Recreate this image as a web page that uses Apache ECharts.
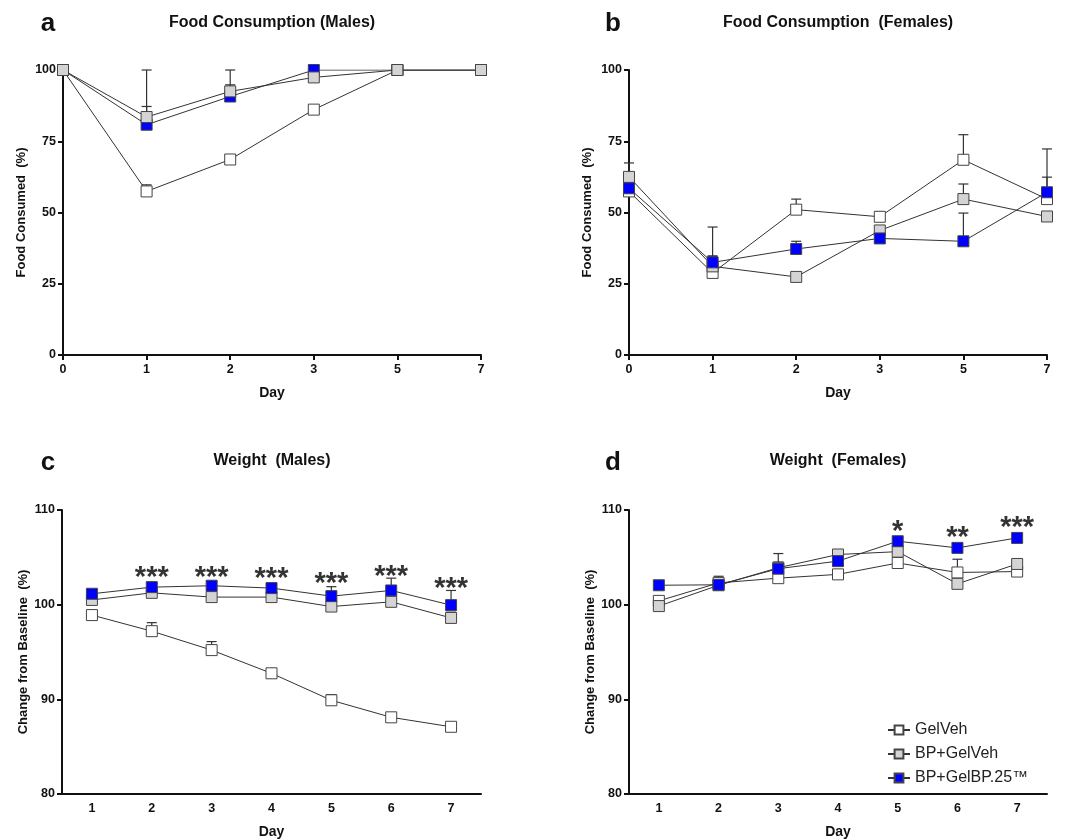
<!DOCTYPE html>
<html>
<head>
<meta charset="utf-8">
<script src="https://cdn.jsdelivr.net/npm/echarts@6/dist/echarts.min.js"></script>
<style>
  html, body { margin: 0; padding: 0; background: #fff; }
  #chart { width: 1070px; height: 840px; }
</style>
</head>
<body>
<div id="chart"></div>
<script>
// ---- data ----
var seriesNames = ["GelVeh", "BP+GelVeh", "BP+GelBP.25\u2122"];

// food consumption, days 0 1 2 3 5 7
var foodDays = ["0", "1", "2", "3", "5", "7"];
var foodMaleVeh = [100, 57.4, 68.6, 86.1, 100, 100];
var foodMaleVehErr = [0, 2.3, 0, 0, 0, 0];
var foodMaleBP = [100, 83.5, 92.5, 97.4, 100, 100];
var foodMaleBPErr = [0, 3.7, 2.3, 0, 0, 0];
var foodMaleGel = [100, 80.8, 90.7, 100, 100, 100];
var foodMaleGelErr = [0, 19.2, 9.3, 0, 0, 0];
var foodMaleStars = [[1, 103.6, "**"], [2, 103.6, "**"]];

var foodFemVeh = [57.4, 28.8, 51.0, 48.5, 68.5, 54.7];
var foodFemVehErr = [0, 16.1, 3.7, 1.7, 8.8, 17.6];
var foodFemBP = [62.5, 31.1, 27.4, 43.7, 54.7, 48.6];
var foodFemBPErr = [4.9, 3.7, 0, 0, 5.3, 0];
var foodFemGel = [58.5, 32.5, 37.2, 40.9, 39.9, 57.1];
var foodFemGelErr = [0, 2, 2.7, 0, 9.9, 5.3];

// weight, days 1..7
var weightDays = ["1", "2", "3", "4", "5", "6", "7"];
var wMaleVeh = [98.9, 97.2, 95.2, 92.75, 89.9, 88.1, 87.1];
var wMaleVehErr = [0.5, 0.9, 0.9, 0.45, 0.6, 0.2, 0.2];
var wMaleBP = [100.5, 101.25, 100.8, 100.8, 99.8, 100.3, 98.6];
var wMaleBPErr = [0.3, 0.4, 0.3, 0.3, 0.3, 0.3, 0.6];
var wMaleGel = [101.15, 101.85, 102.0, 101.75, 100.9, 101.5, 99.95];
var wMaleGelErr = [0.3, 0.5, 0.3, 0.4, 1.0, 1.3, 1.55];
var wMaleStars = [[1, 103.6, "***"], [2, 103.6, "***"], [3, 103.5, "***"], [4, 102.9, "***"], [5, 103.7, "***"], [6, 102.4, "***"]];

var wFemVeh = [100.4, 102.3, 102.8, 103.2, 104.4, 103.4, 103.5];
var wFemVehErr = [0.2, 0.7, 0.4, 0.3, 0.3, 1.4, 0.3];
var wFemBP = [99.85, 102.05, 103.9, 105.3, 105.6, 102.2, 104.3];
var wFemBPErr = [0.2, 0.5, 0.6, 0.2, 0.3, 0.3, 0.5];
var wFemGel = [102.05, 102.1, 103.8, 104.6, 106.7, 106.0, 107.05];
var wFemGelErr = [0.1, 0.3, 1.6, 0.3, 0.2, 0.2, 0.2];
var wFemStars = [[4, 108.4, "*"], [5, 107.75, "**"], [6, 108.8, "***"]];

var FONT = '"Liberation Sans", Arial, Helvetica, sans-serif';
var fills = ["#ffffff", "#d4d4d4", "#0000ff"];

var chart = echarts.init(document.getElementById("chart"));

function lineSeries(name, idx, data, z) {
  return {
    name: name,
    type: "line",
    xAxisIndex: idx,
    yAxisIndex: idx,
    data: data,
    symbol: "rect",
    symbolSize: 11,
    z: z,
    lineStyle: { color: "#333", width: 1 },
    itemStyle: { color: fills[seriesNames.indexOf(name)], borderColor: "#444", borderWidth: 1 },
    emphasis: { disabled: true }
  };
}

function errSeries(idx, values, errs) {
  var d = [];
  for (var i = 0; i < values.length; i++) {
    if (errs[i] > 0) d.push([i, values[i], errs[i]]);
  }
  return {
    type: "custom",
    xAxisIndex: idx,
    yAxisIndex: idx,
    z: 1,
    silent: true,
    data: d,
    renderItem: function (params, api) {
      var p = api.coord([api.value(0), api.value(1)]);
      var t = api.coord([api.value(0), api.value(1) + api.value(2)]);
      var st = { stroke: "#333", lineWidth: 1.2 };
      return {
        type: "group",
        children: [
          { type: "line", shape: { x1: p[0], y1: p[1], x2: t[0], y2: t[1] }, style: st },
          { type: "line", shape: { x1: t[0] - 5, y1: t[1], x2: t[0] + 5, y2: t[1] }, style: st }
        ]
      };
    }
  };
}

function starSeries(idx, data) {
  return {
    type: "scatter",
    xAxisIndex: idx,
    yAxisIndex: idx,
    data: data,
    symbolSize: 1,
    silent: true,
    itemStyle: { color: "rgba(0,0,0,0)" },
    label: {
      show: true,
      position: "inside",
      offset: [0, 7],
      formatter: function (p) { return p.value[2]; },
      fontFamily: FONT,
      fontSize: 29,
      fontWeight: "bold",
      color: "#000",
      textBorderWidth: 0
    }
  };
}

var grids = [
  { left: 63, top: 70, width: 418, height: 285 },
  { left: 629, top: 70, width: 418, height: 285 },
  { left: 62, top: 510, width: 419, height: 285 },
  { left: 629, top: 510, width: 418, height: 285 }
];

function xAxis(idx, cats, gap) {
  return {
    type: "category",
    gridIndex: idx,
    data: cats,
    boundaryGap: gap,
    name: "Day",
    nameLocation: "middle",
    nameGap: 31,
    nameTextStyle: { fontFamily: FONT, fontWeight: "bold", fontSize: 14, color: "#111" },
    axisLine: { lineStyle: { color: "#111", width: 2 } },
    axisTick: { alignWithLabel: true, length: 5, lineStyle: { width: 2, color: "#111" } },
    axisLabel: { fontFamily: FONT, fontWeight: "bold", fontSize: 12.5, color: "#111", margin: 8 },
    splitLine: { show: false }
  };
}

function yAxis(idx, name, min, max, interval, gap) {
  return {
    type: "value",
    gridIndex: idx,
    min: min,
    max: max,
    interval: interval,
    name: name,
    nameLocation: "middle",
    nameGap: gap,
    nameTextStyle: { fontFamily: FONT, fontWeight: "bold", fontSize: 13, color: "#111" },
    axisLine: { show: true, lineStyle: { color: "#111", width: 2 } },
    axisTick: { show: true, length: 5, lineStyle: { width: 2, color: "#111" } },
    axisLabel: { fontFamily: FONT, fontWeight: "bold", fontSize: 12.5, color: "#111", margin: 7 },
    splitLine: { show: false }
  };
}

function titleAt(text, x, y, size) {
  return {
    text: text,
    left: x,
    top: y,
    textAlign: "center",
    padding: 0,
    textStyle: { fontFamily: FONT, fontWeight: "bold", fontSize: size, color: "#111" }
  };
}

var option = {
  backgroundColor: "#fff",
  animation: false,
  title: [
    titleAt("a", 48, 11, 26),
    titleAt("Food Consumption (Males)", 272, 15, 16),
    titleAt("b", 613, 11, 26),
    titleAt("Food Consumption  (Females)", 838, 15, 16),
    titleAt("c", 48, 450, 26),
    titleAt("Weight  (Males)", 272, 453, 16),
    titleAt("d", 613, 450, 26),
    titleAt("Weight  (Females)", 838, 453, 16)
  ],
  legend: {
    orient: "vertical",
    left: 882,
    top: 717,
    itemGap: 8,
    itemWidth: 22,
    itemHeight: 11,
    data: seriesNames,
    textStyle: { fontFamily: FONT, fontSize: 16, color: "#222" }
  },
  grid: grids,
  xAxis: [
    xAxis(0, foodDays, false),
    xAxis(1, foodDays, false),
    xAxis(2, weightDays, true),
    xAxis(3, weightDays, true)
  ],
  yAxis: [
    yAxis(0, "Food Consumed  (%)", 0, 100, 25, 35),
    yAxis(1, "Food Consumed  (%)", 0, 100, 25, 35),
    yAxis(2, "Change from Baseline  (%)", 80, 110, 10, 29),
    yAxis(3, "Change from Baseline  (%)", 80, 110, 10, 30)
  ],
  series: [
    errSeries(0, foodMaleVeh, foodMaleVehErr),
    errSeries(0, foodMaleBP, foodMaleBPErr),
    errSeries(0, foodMaleGel, foodMaleGelErr),
    lineSeries(seriesNames[0], 0, foodMaleVeh, 2),
    lineSeries(seriesNames[2], 0, foodMaleGel, 3),
    lineSeries(seriesNames[1], 0, foodMaleBP, 4),
    starSeries(0, foodMaleStars),

    errSeries(1, foodFemVeh, foodFemVehErr),
    errSeries(1, foodFemBP, foodFemBPErr),
    errSeries(1, foodFemGel, foodFemGelErr),
    lineSeries(seriesNames[0], 1, foodFemVeh, 2),
    lineSeries(seriesNames[1], 1, foodFemBP, 3),
    lineSeries(seriesNames[2], 1, foodFemGel, 4),

    errSeries(2, wMaleVeh, wMaleVehErr),
    errSeries(2, wMaleBP, wMaleBPErr),
    errSeries(2, wMaleGel, wMaleGelErr),
    lineSeries(seriesNames[0], 2, wMaleVeh, 2),
    lineSeries(seriesNames[1], 2, wMaleBP, 3),
    lineSeries(seriesNames[2], 2, wMaleGel, 4),
    starSeries(2, wMaleStars),

    errSeries(3, wFemVeh, wFemVehErr),
    errSeries(3, wFemBP, wFemBPErr),
    errSeries(3, wFemGel, wFemGelErr),
    lineSeries(seriesNames[0], 3, wFemVeh, 2),
    lineSeries(seriesNames[1], 3, wFemBP, 3),
    lineSeries(seriesNames[2], 3, wFemGel, 4),
    starSeries(3, wFemStars)
  ]
};

chart.setOption(option);
</script>
</body>
</html>
